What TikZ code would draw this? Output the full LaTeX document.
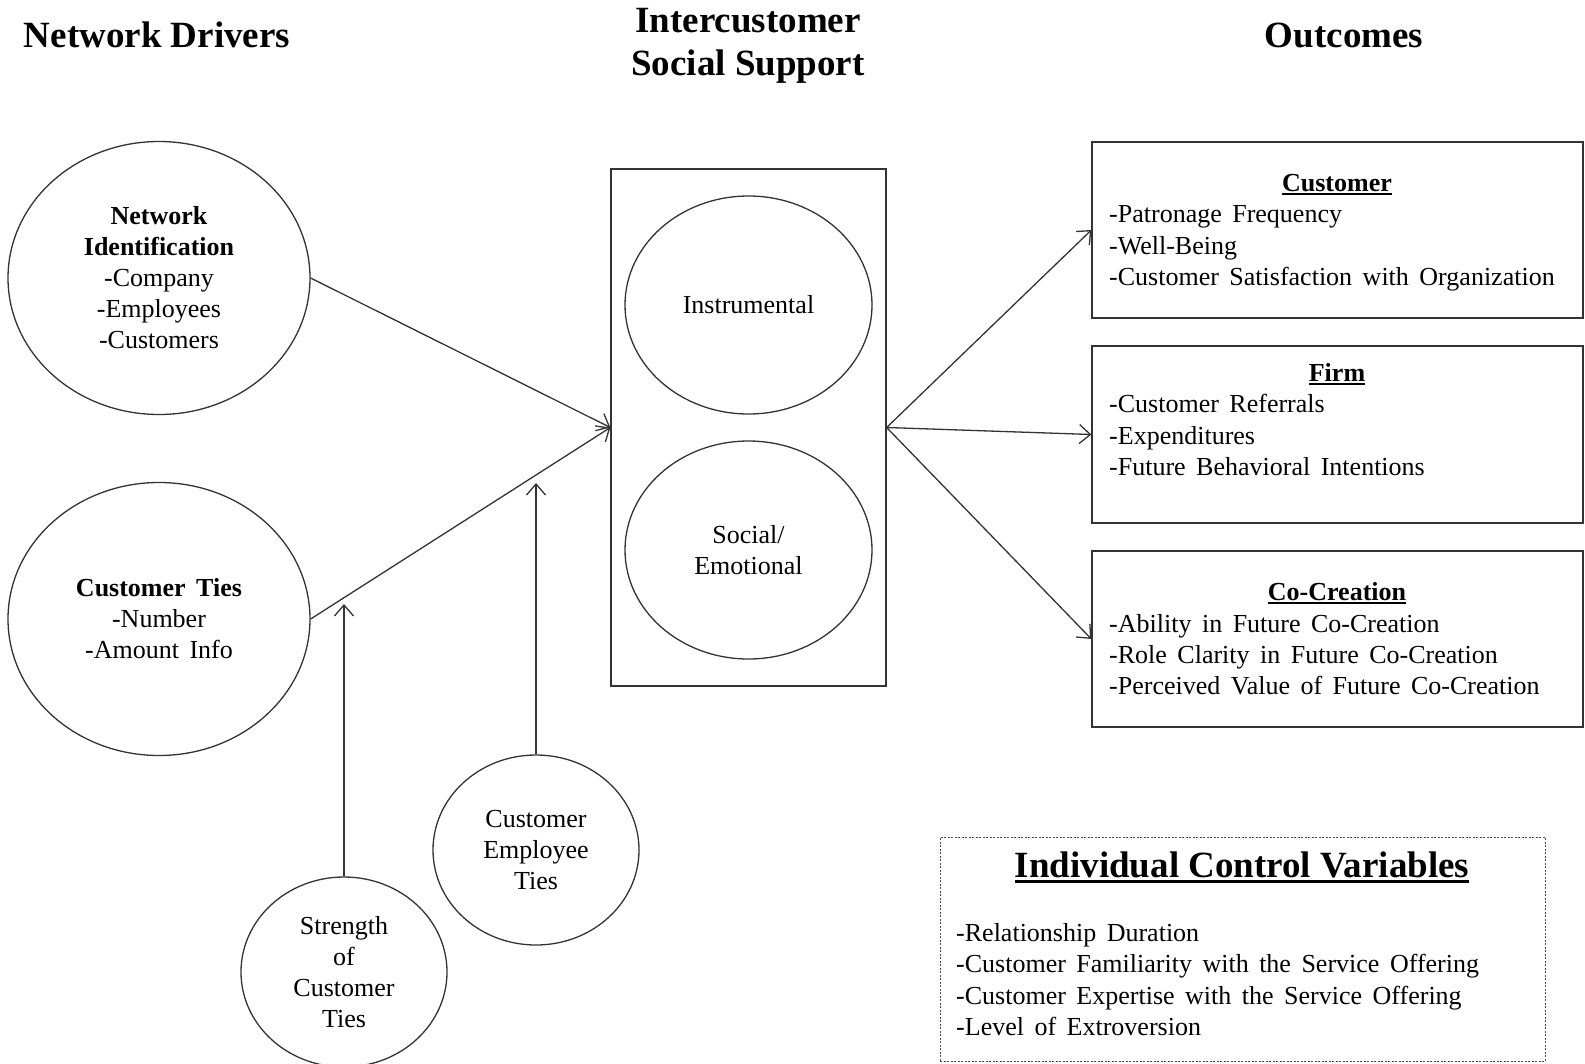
\documentclass[tikz,border=0pt]{standalone}
\usepackage{fontspec}
\setmainfont{Liberation Serif}
\usetikzlibrary{arrows.meta,shapes.geometric,calc}
\newcommand\bodyfont{\fontsize{26}{31}\selectfont\spaceskip=10.5pt plus 1pt}
\newcommand\titlefont{\fontsize{37}{42.5}\selectfont\bfseries}
\newcommand\myul[3]{\setbox0=\hbox{#3}\leavevmode\rlap{\rule[-#2]{\wd0}{#1}}\box0}
\begin{document}
\begin{tikzpicture}[x=1pt,y=-1pt,
  ln/.style={line width=1.3pt, draw=black!80},
  ell/.style={ln, ellipse, inner sep=0pt, align=center, font=\bodyfont},
  frame/.style={ln, rectangle, inner sep=0pt},
  arr/.style={ln, -{Straight Barb[length=11pt,width=19pt,line width=1.3pt]}},
  txt/.style={inner sep=0pt, font=\bodyfont, anchor=base west},
  hd/.style={inner sep=0pt, font=\bodyfont\bfseries, anchor=base},
  ttl/.style={inner sep=0pt, font=\titlefont, align=center}]
\useasboundingbox (0,0) rectangle (1585,1063);

% titles
\node[ttl] (t1) at (157,35) {Network Drivers};
\node[ttl] (t2) at (748,46) {Intercustomer\\Social Support};
\node[ttl] (t3) at (1344,35) {Outcomes};

% drivers
\node[ell, minimum width=302pt, minimum height=273pt] (ni) at (159,278)
  {\textbf{Network}\\\textbf{Identification}\\-Company\\-Employees\\-Customers};
\node[ell, minimum width=302pt, minimum height=273pt] (ct) at (159,619)
  {\textbf{Customer Ties}\\-Number\\-Amount Info};
\node[ell, minimum width=206pt, minimum height=190pt] (cet) at (536,850)
  {Customer\\Employee\\Ties};
\node[ell, minimum width=206pt, minimum height=190pt] (sct) at (344,972)
  {Strength\\of\\Customer\\Ties};

% social support
\node[frame, minimum width=275pt, minimum height=517pt] (css) at (748.5,427.5) {};
\node[ell, minimum width=247pt, minimum height=218pt] (ins) at (748.5,305) {Instrumental};
\node[ell, minimum width=247pt, minimum height=218pt] (soc) at (748.5,550) {Social/\\Emotional};

% outcomes
\node[frame, minimum width=491pt, minimum height=176pt] (oc) at (1337.5,230) {};
\node[frame, minimum width=491pt, minimum height=177pt] (of) at (1337.5,434.5) {};
\node[frame, minimum width=491pt, minimum height=176pt] (oco) at (1337.5,639) {};

\node[hd] (hc) at (1337,191) {\myul{1.6pt}{4pt}{Customer}};
\node[txt] (c1) at (1109,222) {-Patronage Frequency};
\node[txt] (c2) at (1109,254) {-Well-Being};
\node[txt] (c3) at (1109,285) {-Customer Satisfaction with Organization};

\node[hd] (hf) at (1337,381) {\myul{1.6pt}{4pt}{Firm}};
\node[txt] (f1) at (1109,412) {-Customer Referrals};
\node[txt] (f2) at (1109,444) {-Expenditures};
\node[txt] (f3) at (1109,475) {-Future Behavioral Intentions};

\node[hd] (hco) at (1337,600) {\myul{1.6pt}{4pt}{Co-Creation}};
\node[txt] (k1) at (1109,632) {-Ability in Future Co-Creation};
\node[txt] (k2) at (1109,663) {-Role Clarity in Future Co-Creation};
\node[txt] (k3) at (1109,694) {-Perceived Value of Future Co-Creation};

% control variables
\node[draw=black!70, line width=1pt, dash pattern=on 2pt off 1.5pt,
  minimum width=605pt, minimum height=224pt, inner sep=0pt] (cv) at (1242.5,949) {};
\node[inner sep=0pt, font=\titlefont, anchor=base] (cvh) at (1242,877)
  {\myul{3pt}{6pt}{Individual Control Variables}};
\node[txt] (v1) at (956,941) {-Relationship Duration};
\node[txt] (v2) at (956,972) {-Customer Familiarity with the Service Offering};
\node[txt] (v3) at (956,1004) {-Customer Expertise with the Service Offering};
\node[txt] (v4) at (956,1035) {-Level of Extroversion};

% connectors
\coordinate (m1) at (536,483);
\coordinate (m2) at (344,604);
\draw[arr] (ni.east) -- (css.west);
\draw[arr] (ct.east) -- (css.west);
\draw[arr] (cet.north) -- (m1);
\draw[arr] (sct.north) -- (m2);
\draw[arr] (css.east) -- (oc.west);
\draw[arr] (css.east) -- (of.west);
\draw[arr] (css.east) -- (oco.west);
\end{tikzpicture}
\end{document}
